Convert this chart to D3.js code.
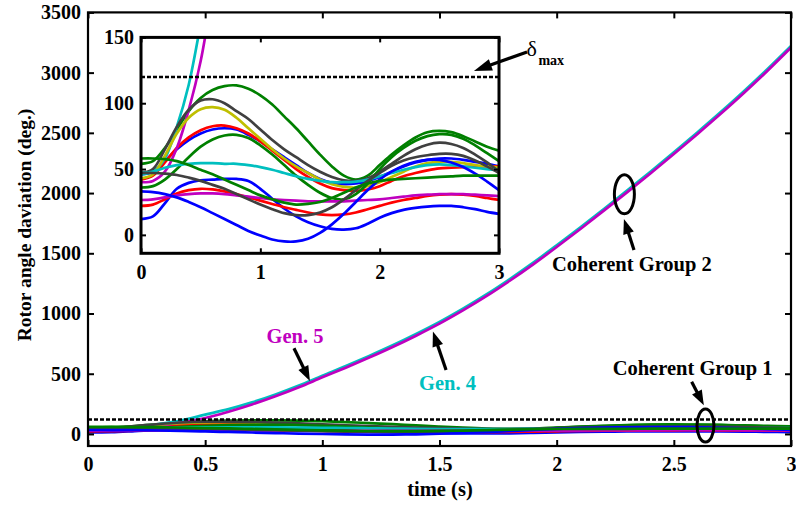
<!DOCTYPE html>
<html><head><meta charset="utf-8">
<script src="https://cdn.jsdelivr.net/npm/d3@7"></script>
<style>
html,body{margin:0;padding:0;background:#fff;}
svg{display:block;}
text{font-family:"Liberation Serif","Times New Roman",serif;font-weight:bold;}
</style>
</head><body>
<svg id="chart" width="796" height="507"></svg>
<script>
// ---------------- data ----------------
const time = [0,0.1,0.2,0.3,0.4,0.5,0.6,0.7,0.8,0.9,1.0,1.1,1.2,1.3,1.4,1.5,1.6,1.7,1.8,1.9,2.0,2.1,2.2,2.3,2.4,2.5,2.6,2.7,2.8,2.9,3.0];

const gen4 = [46,48,58,82,114,160,206,262,328,402,484,564,648,736,830,930,1040,1158,1286,1422,1566,1714,1866,2020,2177,2338,2503,2672,2847,3030,3221];
const gen5 = [40,41,48,66,95,132,185,245,313,388,470,550,634,722,816,916,1026,1144,1272,1408,1552,1700,1852,2006,2163,2324,2489,2658,2833,3016,3208];

const blueA  = [46,48,56,65,72,77,80,81,80,76,71,65,59,53,47,42.5,39.5,38.5,39,41,44,48,52,55,57,58,58,57,55.5,54,52];
const greenA = [54,56,66,80,94,104,110,113,113.5,111,106,99,90,81,71,61,52,45,42,45,53,61,68,74,78,79,78,75,71,67,64];
const redA   = [42,45,55,66,74,79.5,82.5,83,81,77,71,64,57,50,44,39,35.5,34,33.5,34.5,37,41,44.5,47,49,50.5,51,51.5,52,52,52];
const yellow = [43,46,60,77,89,95.5,97,95,89,81,73,65,58,52,47,42,38.5,36.5,36,37,40,44,48,52,54.5,55.5,55.5,54.5,53,52,51];
const grayA  = [47,50,65,82,95,102,103,100,94,88,80,72,65,59,53,48,44,41.5,41,43,48,54,60,65,68.5,70,69,66,61,55,48];
const blueC  = [12,14,24,35,39.5,41.5,42,42.5,42.5,41,35,27.5,20,14,9.5,6.5,4.5,4,5,8.5,13,16.5,19,20.5,21.5,22,22,21,19.5,17.5,16];
const greenB = [36,37,42,50,59,67,72.5,75.5,76,73.5,68,61,53,45,38,32,28,27,31,39,50,59,66,71.5,75,76.5,76,73,68,62,56];
const redB   = [22,23,27,31.5,34,35,34.5,33,31,28.5,26,23.5,21,19,17,15.5,15,15.5,17,19.5,22,24.5,26.5,28,29.5,30.5,31,30.5,29.5,28,26.5];
const cyanB  = [47,48,51,53,54,54.5,54.5,54,54,53,51.5,49.5,47,44.5,42.5,41,40,40,40.5,42,44.5,47,49.5,51.5,53,53.5,53,52,51,50,49];
const magentaB = [26.5,27,28.5,30,31,31.5,31.5,31,30,29,28,27,26.5,26,25.5,25.5,25.5,25.5,26,26.5,27,28,29,30,30.5,31,31,31,30.5,30,29.5];
const grayB  = [47,47,46.5,45.5,43.5,41,38,35,31,27,23,19.5,16.5,15,15,17,21,27,34,41,47,52.5,56.5,59,60.5,61.5,61.5,60,56.5,52,47];
const blueD  = [33,32.5,31,28.5,25,21,16.5,12,7.5,3,-0.5,-3.5,-5,-5,-3,1.5,8,16,25,34,42,48,52.5,55.5,57,57,55,51.5,46.5,40.5,34];
const greenC = [58,58,57.5,56,53,49.5,46,42,38,34,30,27,24.5,23,23.5,25,28,32,36,39,41,42,42.5,43,43.5,44,44.5,45,45,45,45];

const deltaMax = 120;

const mainXTicks = [0,0.5,1,1.5,2,2.5,3];
const mainXTickLabels = ["0","0.5","1","1.5","2","2.5","3"];
const mainYTicks = [0,500,1000,1500,2000,2500,3000,3500];
const insetXTicks = [0,1,2,3];
const insetYTicks = [0,50,100,150];

// ---------------- styles ----------------
const C = {b:"#0000ff", g:"#008000", r:"#ff0000", c:"#00bfbf", m:"#bf00bf", y:"#bfbf00", k:"#404040"};
const series = [
  {v: blueA, col: C.b}, {v: greenA, col: C.g}, {v: redA, col: C.r},
  {v: gen4, col: C.c}, {v: gen5, col: C.m}, {v: yellow, col: C.y},
  {v: grayA, col: C.k}, {v: blueC, col: C.b}, {v: greenB, col: C.g},
  {v: redB, col: C.r}, {v: cyanB, col: C.c}, {v: magentaB, col: C.m},
  {v: grayB, col: C.k}, {v: blueD, col: C.b}, {v: greenC, col: C.g}
];

const svg = d3.select("#chart");
const FS = 20;     // tick labels
const FA = 20.5;   // annotations

// ---------------- main axes ----------------
const M = {l:88, r:791, t:12.4, b:446};
const x = d3.scaleLinear().domain([0,3]).range([M.l, M.r]);
const y = d3.scaleLinear().domain([-100,3500]).range([M.b, M.t]);

svg.append("clipPath").attr("id","clipMain").append("rect")
  .attr("x",M.l).attr("y",M.t).attr("width",M.r-M.l).attr("height",M.b-M.t);

const mainG = svg.append("g").attr("clip-path","url(#clipMain)");
const lineMain = d3.line().x((d,i)=>x(time[i])).y(d=>y(d)).curve(d3.curveCatmullRom);

series.forEach(s=>{
  mainG.append("path").attr("d", lineMain(s.v)).attr("fill","none")
    .attr("stroke", s.col).attr("stroke-width",2.7).attr("stroke-linejoin","round");
});
mainG.append("line").attr("x1",x(0)).attr("x2",x(3)).attr("y1",y(deltaMax)).attr("y2",y(deltaMax))
  .attr("stroke","#000").attr("stroke-width",2.5).attr("stroke-dasharray","4,2");

function styleAxis(g, fs){
  g.select(".domain").remove();
  g.selectAll(".tick line").attr("stroke","#000").attr("stroke-width",2);
  g.selectAll(".tick text").attr("fill","#000").style("font-size",fs+"px")
    .style("font-family",'"Liberation Serif","Times New Roman",serif').style("font-weight","bold");
}
const gxB = svg.append("g").attr("transform",`translate(0,${M.b})`)
  .call(d3.axisBottom(x).tickValues(mainXTicks).tickFormat((d,i)=>mainXTickLabels[i]).tickSize(-6).tickPadding(11));
styleAxis(gxB, FS);
const gxT = svg.append("g").attr("transform",`translate(0,${M.t})`)
  .call(d3.axisTop(x).tickValues(mainXTicks).tickFormat("").tickSize(-6));
styleAxis(gxT, FS);
const gyL = svg.append("g").attr("transform",`translate(${M.l},0)`)
  .call(d3.axisLeft(y).tickValues(mainYTicks).tickFormat(d3.format("d")).tickSize(-6).tickPadding(7));
styleAxis(gyL, FS);
const gyR = svg.append("g").attr("transform",`translate(${M.r},0)`)
  .call(d3.axisRight(y).tickValues(mainYTicks).tickFormat("").tickSize(-6));
styleAxis(gyR, FS);
svg.append("rect").attr("x",M.l).attr("y",M.t).attr("width",M.r-M.l).attr("height",M.b-M.t)
  .attr("fill","none").attr("stroke","#000").attr("stroke-width",2.2);

svg.append("text").attr("x",440).attr("y",496).attr("text-anchor","middle")
  .style("font-size",FA+"px").text("time (s)");
svg.append("text").attr("transform",`translate(31,${225}) rotate(-90)`).attr("text-anchor","middle")
  .style("font-size","19.5px").text("Rotor angle daviation (deg.)");

// ---------------- annotations (main) ----------------
function arrow(x1,y1,x2,y2,hl=15,hw=11,lw=3.2){
  const dx=x2-x1, dy=y2-y1, L=Math.hypot(dx,dy), ux=dx/L, uy=dy/L;
  const bx=x2-ux*hl, by=y2-uy*hl;
  svg.append("line").attr("x1",x1).attr("y1",y1).attr("x2",bx+ux*2).attr("y2",by+uy*2)
    .attr("stroke","#000").attr("stroke-width",lw);
  const px=-uy, py=ux;
  svg.append("path").attr("d",`M${x2},${y2}L${bx+px*hw/2},${by+py*hw/2}L${bx-px*hw/2},${by-py*hw/2}Z`)
    .attr("fill","#000");
}
// Coherent Group 2
svg.append("ellipse").attr("cx",x(2.289)).attr("cy",y(1990)).attr("rx",10).attr("ry",19.5)
  .attr("fill","none").attr("stroke","#000").attr("stroke-width",3);
arrow(x(2.330),y(1528),x(2.287),y(1785));
svg.append("text").attr("x",x(2.321)).attr("y",y(1355)).attr("text-anchor","middle")
  .style("font-size",FA+"px").text("Coherent Group 2");
// Coherent Group 1
svg.append("ellipse").attr("cx",x(2.635)).attr("cy",y(70)).attr("rx",8.5).attr("ry",16.5)
  .attr("fill","none").attr("stroke","#000").attr("stroke-width",3);
arrow(x(2.576),y(434),x(2.628),y(238));
svg.append("text").attr("x",x(2.58)).attr("y",y(490)).attr("text-anchor","middle")
  .style("font-size",FA+"px").text("Coherent Group 1");
// Gen 5
svg.append("text").attr("x",x(0.883)).attr("y",y(756)).attr("text-anchor","middle")
  .attr("fill",C.m).style("font-size",FA+"px").text("Gen. 5");
arrow(x(0.879),y(712),x(0.947),y(440));
// Gen 4
svg.append("text").attr("x",x(1.534)).attr("y",y(365)).attr("text-anchor","middle")
  .attr("fill",C.c).style("font-size",FA+"px").text("Gen. 4");
arrow(x(1.528),y(531),x(1.472),y(850));

// ---------------- inset ----------------
const I = {l:141, r:499, t:37.4, b:253.3};
const ix = d3.scaleLinear().domain([0,3]).range([I.l, I.r]);
const iy = d3.scaleLinear().domain([-14,150]).range([I.b, I.t]);
svg.append("rect").attr("x",I.l).attr("y",I.t).attr("width",I.r-I.l).attr("height",I.b-I.t).attr("fill","#fff");
svg.append("clipPath").attr("id","clipInset").append("rect")
  .attr("x",I.l).attr("y",I.t).attr("width",I.r-I.l).attr("height",I.b-I.t);
const insG = svg.append("g").attr("clip-path","url(#clipInset)");
const lineInset = d3.line().x((d,i)=>ix(time[i])).y(d=>iy(d)).curve(d3.curveCatmullRom);
series.forEach(s=>{
  insG.append("path").attr("d", lineInset(s.v)).attr("fill","none")
    .attr("stroke", s.col).attr("stroke-width",2.7).attr("stroke-linejoin","round");
});
insG.append("line").attr("x1",ix(0)).attr("x2",ix(3)).attr("y1",iy(deltaMax)).attr("y2",iy(deltaMax))
  .attr("stroke","#000").attr("stroke-width",2.5).attr("stroke-dasharray","4,2");

const ixB = svg.append("g").attr("transform",`translate(0,${I.b})`)
  .call(d3.axisBottom(ix).tickValues(insetXTicks).tickFormat(d3.format("d")).tickSize(-5).tickPadding(12));
styleAxis(ixB, FS);
const ixT = svg.append("g").attr("transform",`translate(0,${I.t})`)
  .call(d3.axisTop(ix).tickValues(insetXTicks).tickFormat("").tickSize(-5));
styleAxis(ixT, FS);
const iyL = svg.append("g").attr("transform",`translate(${I.l},0)`)
  .call(d3.axisLeft(iy).tickValues(insetYTicks).tickFormat(d3.format("d")).tickSize(-5).tickPadding(7));
styleAxis(iyL, FS);
const iyR = svg.append("g").attr("transform",`translate(${I.r},0)`)
  .call(d3.axisRight(iy).tickValues(insetYTicks).tickFormat("").tickSize(-5));
styleAxis(iyR, FS);
svg.append("rect").attr("x",I.l).attr("y",I.t).attr("width",I.r-I.l).attr("height",I.b-I.t)
  .attr("fill","none").attr("stroke","#000").attr("stroke-width",3);

// delta max annotation
arrow(ix(3.235),iy(139),ix(2.79),iy(124.5),18,12,3.2);
svg.append("text").attr("x",ix(3.23)).attr("y",iy(135.5)).style("font-size","22px")
  .style("font-weight","normal").text("δ");
svg.append("text").attr("x",ix(3.33)).attr("y",iy(129)).style("font-size","14px").text("max");
</script>
</body></html>
